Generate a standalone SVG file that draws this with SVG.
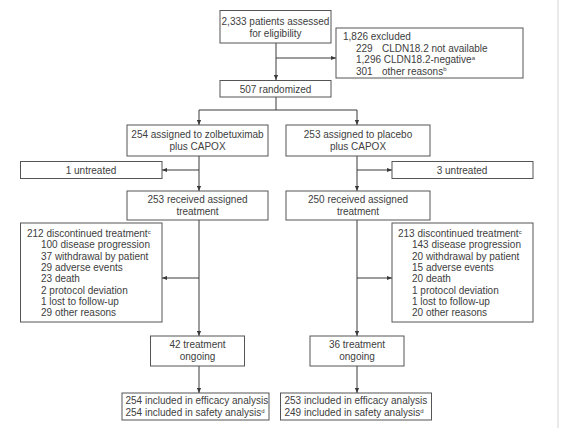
<svg xmlns="http://www.w3.org/2000/svg" width="579" height="432" viewBox="0 0 579 432">
<defs>
<marker id="ah" viewBox="0 0 6 6" refX="6" refY="3" markerWidth="5" markerHeight="5" orient="auto" markerUnits="userSpaceOnUse">
<path d="M0,0.5 L6,3 L0,5.5 Z" fill="#3a3a3a"/>
</marker>
<style>
.box{fill:#fff;stroke:#555;stroke-width:1}
text{font-family:"Liberation Sans",Arial,sans-serif;font-size:10px;fill:#404040}
.c{text-anchor:middle}
.sup{font-size:6px}
.ln{stroke:#3a3a3a;stroke-width:1;fill:none}
.arr{stroke:#3a3a3a;stroke-width:1;fill:none;marker-end:url(#ah)}
</style>
</defs>
<rect width="579" height="432" fill="#fff"/>
<line x1="558" y1="0" x2="558" y2="428" stroke="#d4d4d4" stroke-width="1"/>
<g id="connectors">
<path class="arr" d="M276,43 V80"/>
<path class="arr" d="M276,58 H336"/>
<path class="ln" d="M276,97 V110 M199,110 H357"/>
<path class="arr" d="M199,110 V125"/>
<path class="arr" d="M357,110 V125"/>
<path class="arr" d="M199,156 V191"/>
<path class="arr" d="M199,170 H162"/>
<path class="arr" d="M357,156 V191"/>
<path class="arr" d="M357,170 H392"/>
<path class="arr" d="M199,220 V336"/>
<path class="arr" d="M199,278 H162"/>
<path class="arr" d="M357,220 V336"/>
<path class="arr" d="M357,278 H392"/>
<path class="arr" d="M199,366 V393"/>
<path class="arr" d="M357,366 V393"/>
</g>
<g id="assessed">
<rect class="box" x="220" y="10.5" width="111" height="32.5"/>
<text class="c" x="275.5" y="24.5">2,333 patients assessed</text>
<text class="c" x="275.5" y="36.5">for eligibility</text>
</g>
<g id="excluded">
<rect class="box" x="336" y="28" width="187" height="50"/>
<text x="343" y="40">1,826 excluded</text>
<text x="356" y="51.5">229</text><text x="382" y="51.5">CLDN18.2 not available</text>
<text x="356" y="63">1,296 CLDN18.2-negative<tspan class="sup" dy="-3.5">a</tspan></text>
<text x="356" y="74.5">301</text><text x="382" y="74.5">other reasons<tspan class="sup" dy="-3.5">b</tspan></text>
</g>
<g id="randomized">
<rect class="box" x="220" y="80.5" width="111" height="16.5"/>
<text class="c" x="275.5" y="92.5">507 randomized</text>
</g>
<g id="assigned-zolbetuximab">
<rect class="box" x="127" y="125" width="141" height="31"/>
<text class="c" x="197.5" y="137.5">254 assigned to zolbetuximab</text>
<text class="c" x="197.5" y="149.5">plus CAPOX</text>
</g>
<g id="assigned-placebo">
<rect class="box" x="286" y="125" width="144" height="31"/>
<text class="c" x="358" y="137.5">253 assigned to placebo</text>
<text class="c" x="358" y="149.5">plus CAPOX</text>
</g>
<g id="untreated-left">
<rect class="box" x="20.5" y="161.5" width="141.5" height="17"/>
<text class="c" x="91" y="173.5">1 untreated</text>
</g>
<g id="untreated-right">
<rect class="box" x="392" y="161.5" width="141" height="17"/>
<text class="c" x="462" y="173.5">3 untreated</text>
</g>
<g id="received-left">
<rect class="box" x="127" y="191" width="141" height="29"/>
<text class="c" x="197.5" y="203">253 received assigned</text>
<text class="c" x="197.5" y="215">treatment</text>
</g>
<g id="received-right">
<rect class="box" x="286" y="191" width="144" height="29"/>
<text class="c" x="358" y="203">250 received assigned</text>
<text class="c" x="358" y="215">treatment</text>
</g>
<g id="discontinued-left">
<rect class="box" x="20.5" y="223" width="141.5" height="99"/>
<text x="27" y="237">212 discontinued treatment<tspan class="sup" dy="-3.5">c</tspan></text>
<text x="41" y="248.3">100 disease progression</text>
<text x="41" y="259.6">37 withdrawal by patient</text>
<text x="41" y="270.9">29 adverse events</text>
<text x="41" y="282.2">23 death</text>
<text x="41" y="293.5">2 protocol deviation</text>
<text x="41" y="304.8">1 lost to follow-up</text>
<text x="41" y="316.1">29 other reasons</text>
</g>
<g id="discontinued-right">
<rect class="box" x="392" y="223" width="141" height="99"/>
<text x="398" y="237">213 discontinued treatment<tspan class="sup" dy="-3.5">c</tspan></text>
<text x="412" y="248.3">143 disease progression</text>
<text x="412" y="259.6">20 withdrawal by patient</text>
<text x="412" y="270.9">15 adverse events</text>
<text x="412" y="282.2">20 death</text>
<text x="412" y="293.5">1 protocol deviation</text>
<text x="412" y="304.8">1 lost to follow-up</text>
<text x="412" y="316.1">20 other reasons</text>
</g>
<g id="ongoing-left">
<rect class="box" x="150.5" y="336" width="94" height="30"/>
<text class="c" x="197.5" y="348">42 treatment</text>
<text class="c" x="197.5" y="360">ongoing</text>
</g>
<g id="ongoing-right">
<rect class="box" x="310" y="336" width="94" height="30"/>
<text class="c" x="357" y="348">36 treatment</text>
<text class="c" x="357" y="360">ongoing</text>
</g>
<g id="analysis-left">
<rect class="box" x="122" y="393" width="147" height="27"/>
<text x="125.5" y="404">254 included in efficacy analysis</text>
<text x="125.5" y="416">254 included in safety analysis<tspan class="sup" dy="-3.5">d</tspan></text>
</g>
<g id="analysis-right">
<rect class="box" x="280.5" y="393" width="151" height="27"/>
<text x="284.5" y="404">253 included in efficacy analysis</text>
<text x="284.5" y="416">249 included in safety analysis<tspan class="sup" dy="-3.5">d</tspan></text>
</g>
</svg>
